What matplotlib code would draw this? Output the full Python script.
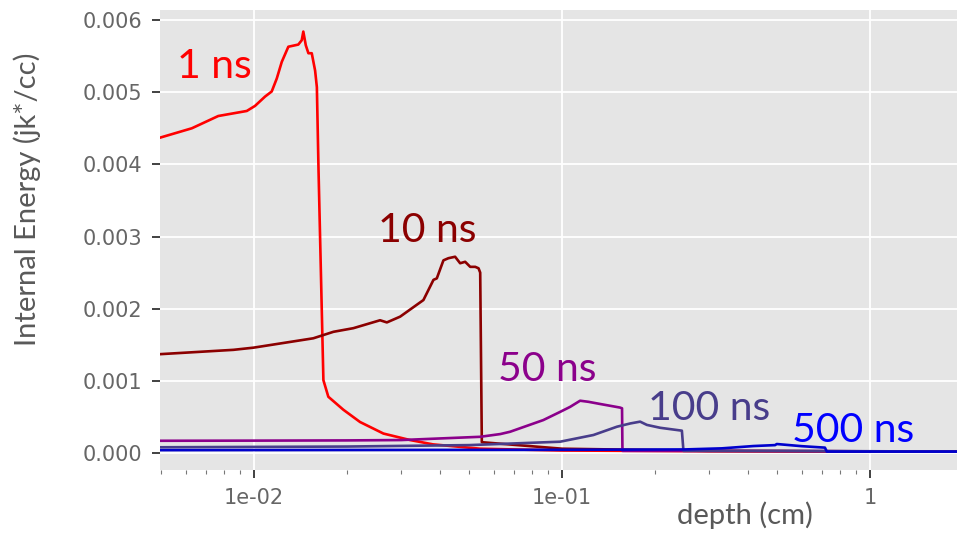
import matplotlib
matplotlib.use("Agg")
import matplotlib.pyplot as plt
import numpy as np

# ---- data ----
x_1ns = [0.00495, 0.00628, 0.00765, 0.00947, 0.01007, 0.01086, 0.01141, 0.01185, 0.01230,
         0.01292, 0.01392, 0.01428, 0.01445, 0.01472, 0.01501, 0.01539, 0.01578, 0.01599,
         0.01619, 0.01679, 0.01742, 0.01949, 0.02208, 0.02630, 0.03210, 0.03812,
         0.0542, 0.1, 0.3, 1.9]
y_1ns = [4.37e-3, 4.50e-3, 4.67e-3, 4.74e-3, 4.81e-3, 4.94e-3, 5.01e-3, 5.19e-3, 5.42e-3,
         5.63e-3, 5.66e-3, 5.72e-3, 5.84e-3, 5.65e-3, 5.54e-3, 5.54e-3, 5.30e-3, 5.07e-3,
         3.92e-3, 1.01e-3, 0.78e-3, 0.60e-3, 0.43e-3, 0.27e-3, 0.18e-3, 0.12e-3,
         0.06e-3, 0.035e-3, 0.025e-3, 0.02e-3]

x_10ns = [0.00495, 0.00857, 0.00995, 0.01557, 0.01810, 0.02100, 0.02565, 0.02698, 0.02980,
          0.03546, 0.03823, 0.03919, 0.04118, 0.04276, 0.04494, 0.04666, 0.04845, 0.05031,
          0.05224, 0.05355, 0.05421, 0.05487, 0.1, 0.3, 1.9]
y_10ns = [1.37e-3, 1.43e-3, 1.46e-3, 1.59e-3, 1.68e-3, 1.73e-3, 1.84e-3, 1.81e-3, 1.89e-3,
          2.12e-3, 2.40e-3, 2.42e-3, 2.67e-3, 2.70e-3, 2.72e-3, 2.63e-3, 2.65e-3, 2.58e-3,
          2.58e-3, 2.56e-3, 2.50e-3, 0.15e-3, 0.06e-3, 0.03e-3, 0.02e-3]

x_50ns = [0.00495, 0.01, 0.02, 0.03, 0.0542, 0.063, 0.0678, 0.0869, 0.0985, 0.1062, 0.1144,
          0.1217, 0.1328, 0.1542, 0.1565, 0.157, 0.3, 1.9]
y_50ns = [0.17e-3, 0.172e-3, 0.175e-3, 0.18e-3, 0.225e-3, 0.263e-3, 0.295e-3, 0.457e-3,
          0.57e-3, 0.64e-3, 0.725e-3, 0.71e-3, 0.68e-3, 0.63e-3, 0.62e-3, 0.03e-3, 0.03e-3, 0.02e-3]

x_100ns = [0.00495, 0.02, 0.05, 0.0985, 0.1264, 0.1507, 0.1665, 0.1792, 0.1884, 0.2081,
           0.2448, 0.2477, 0.5, 1.9]
y_100ns = [0.08e-3, 0.09e-3, 0.11e-3, 0.157e-3, 0.25e-3, 0.365e-3, 0.41e-3, 0.435e-3,
           0.39e-3, 0.35e-3, 0.31e-3, 0.03e-3, 0.03e-3, 0.02e-3]

x_500ns = [0.00495, 0.1, 0.25, 0.33, 0.418, 0.4914, 0.4976, 0.6, 0.713, 0.7235, 1.9]
y_500ns = [0.04e-3, 0.045e-3, 0.05e-3, 0.065e-3, 0.097e-3, 0.11e-3, 0.125e-3, 0.095e-3,
           0.075e-3, 0.02e-3, 0.02e-3]

series_names = ["1 ns", "10 ns", "50 ns", "100 ns", "500 ns"]
series_x = [x_1ns, x_10ns, x_50ns, x_100ns, x_500ns]
series_y = [y_1ns, y_10ns, y_50ns, y_100ns, y_500ns]
series_colors = ["#ff0000", "#8b0000", "#8b008b", "#483d8b", "#0000cd"]
label_colors = ["#ff0000", "#8b0000", "#8b008b", "#483d8b", "#0000ff"]
# label anchor (data coords, left/baseline)
label_x = [0.00562, 0.0253, 0.0619, 0.190, 0.558]
label_y = [5.19e-3, 2.92e-3, 0.997e-3, 0.457e-3, 0.152e-3]

xtick_vals = [0.01, 0.1, 1]
xtick_labels = ["1e-02", "1e-01", "1"]
ytick_vals = [0.0, 0.001, 0.002, 0.003, 0.004, 0.005, 0.006]
ytick_labels = ["0.000", "0.001", "0.002", "0.003", "0.004", "0.005", "0.006"]

# ---- figure ----
fig = plt.figure(figsize=(9.57, 5.34), dpi=100)
ax = fig.add_axes([160 / 957, (534 - 470) / 534, (957 - 160) / 957, (470 - 10) / 534])
ax.set_facecolor("#e5e5e5")
for s in ax.spines.values():
    s.set_visible(False)

for xs, ys, c in zip(series_x, series_y, series_colors):
    ax.plot(xs, ys, color=c, lw=1.9, solid_joinstyle="round")

for name, lx, ly, c in zip(series_names, label_x, label_y, label_colors):
    ax.text(lx, ly, name, color=c, fontsize=29.5, family=["Lato", "DejaVu Sans"],
            ha="left", va="baseline")

ax.set_xscale("log")
ax.set_xlim(0.00495, 1.914)
ax.set_ylim(-0.000235, 0.006139)

ax.set_xticks(xtick_vals)
ax.set_xticklabels(xtick_labels)
ax.set_yticks(ytick_vals)
ax.set_yticklabels(ytick_labels)

ax.grid(True, which="major", color="white", lw=1.3)
ax.set_axisbelow(True)

ax.tick_params(axis="both", which="major", direction="out", length=6, width=1.3,
               color="#333333", labelcolor="#666666", labelsize=15, pad=7)
ax.tick_params(axis="x", which="minor", direction="out", length=3, width=0.8,
               color="#777777")

ax.set_xlabel("depth (cm)", fontsize=21, color="#595959", family=["Lato", "DejaVu Sans"])
ax.xaxis.set_label_coords((745 - 160) / 797, (470 - 515) / 460)
ax.xaxis.label.set_va("center")
ax.set_ylabel("Internal Energy (jk*/cc)", fontsize=21, color="#595959",
              family=["Lato", "DejaVu Sans"])
ax.yaxis.set_label_coords((27 - 160) / 797, (470 - 199) / 460)
ax.yaxis.label.set_va("center")

fig.savefig("out.png", dpi=100)
